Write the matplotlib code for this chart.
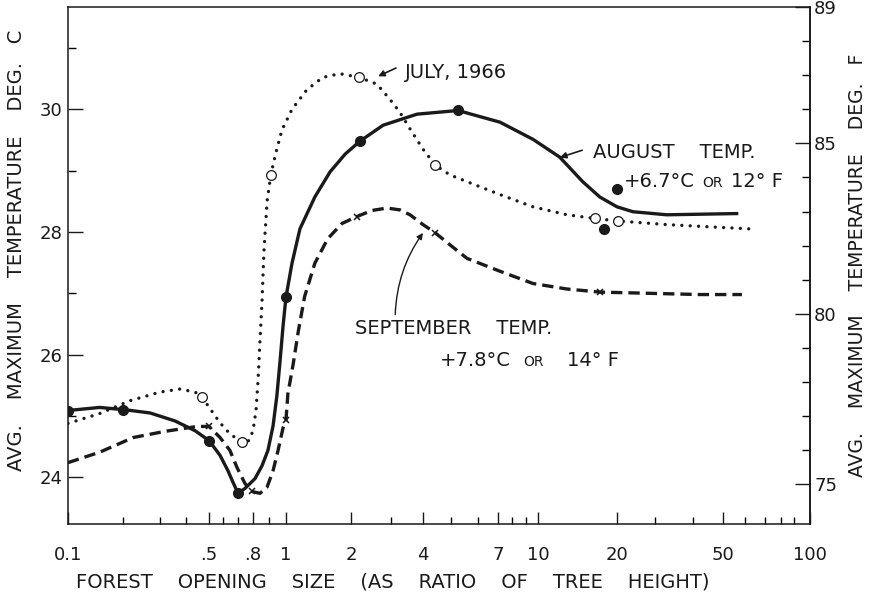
import numpy as np
import matplotlib
matplotlib.use("Agg")
from matplotlib import pyplot as plt

# the x axis of the original is hand drawn: it is log-like but uneven,
# so the scale is calibrated on where the printed ticks sit
cal_vals = [0.1, 0.2, 0.3, 0.4, 0.5, 0.6, 0.7, 0.8, 0.9, 1, 2, 3, 4, 5, 6, 7, 8, 9,
            10, 20, 30, 40, 50, 60, 70, 80, 90, 100]
cal_pix = [68, 123, 160, 186, 209, 223, 238, 253, 269, 286, 351, 391, 423, 451, 478,
           498, 512, 526, 538, 617, 655, 693, 723, 745, 765, 781, 794, 810]
cal_log = np.concatenate([[-4.0], np.log10(cal_vals), [5.0]])
cal_pos = np.concatenate([[68 - 3 * 200.0], np.array(cal_pix, float), [810 + 3 * 260.0]])

def fwd(x):
    x = np.clip(np.asarray(x, float), 1e-4, 1e5)
    return np.interp(np.log10(x), cal_log, cal_pos)

def inv(p):
    return 10 ** np.interp(np.asarray(p, float), cal_pos, cal_log)

# August (solid line, filled dots), deg C
aug_x = [0.1, 0.149, 0.207, 0.269, 0.354, 0.437, 0.5, 0.577, 0.631, 0.665, 0.7, 0.745,
         0.812, 0.855, 0.893, 0.923, 0.945, 0.964, 0.982, 1.0, 1.066, 1.16, 1.36, 1.60,
         1.88, 2.19, 2.77, 3.79, 5.24, 7.13, 9.57, 12.1, 14.8, 17.2, 20, 23.7, 32.8, 56]
aug_c = [25.09, 25.14, 25.10, 25.05, 24.92, 24.76, 24.60, 24.36, 24.11, 23.92, 23.74, 23.82,
         23.98, 24.19, 24.44, 24.84, 25.33, 25.90, 26.47, 26.94, 27.49, 28.05, 28.57, 28.98,
         29.27, 29.48, 29.74, 29.92, 29.98, 29.79, 29.51, 29.22, 28.82, 28.57, 28.41, 28.33,
         28.28, 28.30]
aug_pts_x = [0.1, 0.2, 0.5, 0.7, 1.0, 2.19, 5.24, 17.8, 20]
aug_pts_c = [25.09, 25.10, 24.60, 23.74, 26.94, 29.48, 29.98, 28.05, 28.70]

# July 1966 (dotted line, open circles)
jul_x = [0.1, 0.149, 0.216, 0.3, 0.374, 0.437, 0.467, 0.507, 0.577, 0.644, 0.726, 0.772,
         0.8, 0.818, 0.830, 0.842, 0.855, 0.867, 0.887, 0.91, 0.94, 0.975, 1.066, 1.25,
         1.48, 1.78, 2.17, 2.60, 2.97, 3.25, 3.56, 4.0, 4.41, 4.96, 5.57, 7.13, 9.57,
         12.9, 16.5, 20.1, 32.8, 62.3]
jul_c = [24.88, 25.04, 25.25, 25.39, 25.44, 25.39, 25.31, 25.12, 24.89, 24.71, 24.57, 24.60,
         24.76, 25.09, 25.57, 26.22, 26.87, 27.68, 28.49, 28.93, 29.30, 29.66, 30.00, 30.32,
         30.52, 30.58, 30.52, 30.41, 30.16, 29.95, 29.68, 29.35, 29.09, 28.93, 28.82, 28.61,
         28.41, 28.28, 28.22, 28.18, 28.12, 28.05]
jul_pts_x = [0.467, 0.726, 0.91, 2.17, 4.41, 16.5, 20.2]
jul_pts_c = [25.31, 24.57, 28.93, 30.52, 29.09, 28.22, 28.18]

# September (dashed line, x marks)
sep_x = [0.1, 0.149, 0.224, 0.317, 0.445, 0.5, 0.577, 0.644, 0.693, 0.745, 0.793, 0.842,
         0.887, 0.923, 0.952, 0.982, 1.0, 1.02, 1.08, 1.14, 1.22, 1.36, 1.56, 1.82, 2.12,
         2.47, 2.88, 3.25, 3.56, 4.0, 4.4, 4.96, 5.57, 7.13, 9.57, 12.9, 17.2, 28.4, 42.2,
         58.5]
sep_c = [24.24, 24.41, 24.65, 24.75, 24.83, 24.83, 24.65, 24.44, 24.16, 23.90, 23.77, 23.74,
         23.84, 24.11, 24.44, 24.81, 24.94, 25.36, 25.85, 26.38, 26.95, 27.49, 27.89, 28.14,
         28.25, 28.35, 28.39, 28.36, 28.28, 28.12, 27.99, 27.79, 27.57, 27.36, 27.16, 27.07,
         27.02, 27.00, 26.98, 26.98]
sep_pts_x = [0.5, 0.79, 1.0, 2.12, 4.4, 17.2]
sep_pts_c = [24.83, 23.77, 24.94, 28.25, 27.99, 27.02]

major_x = [0.1, 0.5, 0.8, 1, 2, 4, 7, 10, 20, 50, 100]
major_x_lab = ["0.1", ".5", ".8", "1", "2", "4", "7", "10", "20", "50", "100"]
minor_x = [0.2, 0.3, 0.4, 0.6, 0.7, 0.9, 3, 5, 6, 8, 9, 30, 40, 60, 70, 80, 90]
c_major = [24, 26, 28, 30]
c_minor = [25, 27, 29, 31]
f_major = [75, 80, 85, 89]
f_minor = list(range(75, 90))

ink = "#1a1a1a"
plt.rcParams["font.family"] = ["DejaVu Sans"]
plt.rcParams["text.color"] = ink

fig = plt.figure(figsize=(8.73, 5.95), dpi=100)
ax = fig.add_axes([68 / 873, 71 / 595, 742 / 873, 517 / 595])
ax.set_xscale("function", functions=(fwd, inv))

ax.plot(jul_x, jul_c, color=ink, lw=2.4, linestyle=(0, (0.01, 2.5)),
        dash_capstyle="round", solid_capstyle="round")
ax.plot(aug_x, aug_c, color=ink, lw=2.4, solid_joinstyle="round")
ax.plot(sep_x, sep_c, color=ink, lw=2.4, linestyle=(0, (3.4, 1.8)))
ax.plot(jul_pts_x, jul_pts_c, "o", ms=7, mfc="white", mec=ink, mew=0.9, ls="none")
ax.plot(aug_pts_x, aug_pts_c, "o", ms=7, color=ink, ls="none")
ax.plot(sep_pts_x, sep_pts_c, "x", ms=4.5, mew=1.1, color=ink, ls="none")

ax.set_xlim(0.1, 100)
ax.set_ylim(23.24, 31.667)

ax.set_xticks(major_x)
ax.set_xticklabels(major_x_lab)
ax.set_xticks(minor_x, minor=True)
ax.set_xticklabels([], minor=True)
ax.set_yticks(c_major)
ax.set_yticks(c_minor, minor=True)

ax.tick_params(axis="x", which="major", direction="in", length=9, width=1,
               pad=16, labelsize=13, colors=ink)
ax.tick_params(axis="x", which="minor", direction="in", length=5, width=1)
ax.tick_params(axis="y", which="major", direction="in", length=11, width=1,
               pad=4, labelsize=13, colors=ink)
ax.tick_params(axis="y", which="minor", direction="in", length=6, width=1)
for s in ax.spines.values():
    s.set_linewidth(1.1)
    s.set_color(ink)

sec = ax.secondary_yaxis("right", functions=(lambda c: c * 9 / 5 + 32,
                                             lambda f: (f - 32) * 5 / 9))
sec.set_yticks(f_major)
sec.set_yticks(f_minor, minor=True)
sec.tick_params(which="major", direction="in", length=11, width=1, pad=3,
                labelsize=13, colors=ink)
sec.tick_params(which="minor", direction="in", length=6, width=1)
sec.spines["right"].set_linewidth(1.1)

ax.set_xlabel("FOREST    OPENING    SIZE    (AS    RATIO    OF    TREE    HEIGHT)",
              fontsize=14, color=ink)
ax.xaxis.set_label_coords(0.438, -0.093)
ax.set_ylabel("AVG.    MAXIMUM    TEMPERATURE    DEG.   C", fontsize=14, color=ink)
ax.yaxis.set_label_coords(-0.057, 0.53)
sec.set_ylabel("AVG.    MAXIMUM    TEMPERATURE    DEG.   F", fontsize=13.5, color=ink,
               labelpad=8)

# annotations
arw = dict(arrowstyle="-|>", color=ink, lw=1.2, mutation_scale=9, shrinkA=0, shrinkB=0)
ax.text(0.454, 0.874, "JULY, 1966", transform=ax.transAxes, fontsize=14,
        va="center", ha="left")
ax.annotate("", xy=(0.418, 0.866), xytext=(0.442, 0.882),
            xycoords="axes fraction", textcoords="axes fraction", arrowprops=arw)
ax.text(0.708, 0.718, "AUGUST    TEMP.", transform=ax.transAxes, fontsize=14,
        va="center", ha="left")
ax.annotate("", xy=(0.663, 0.709), xytext=(0.693, 0.723),
            xycoords="axes fraction", textcoords="axes fraction", arrowprops=arw)
ax.text(0.749, 0.662, "+6.7°C", transform=ax.transAxes, fontsize=14,
        va="center", ha="left")
ax.text(0.855, 0.659, "OR", transform=ax.transAxes, fontsize=10,
        va="center", ha="left")
ax.text(0.893, 0.662, "12° F", transform=ax.transAxes, fontsize=14,
        va="center", ha="left")
ax.text(0.387, 0.379, "SEPTEMBER    TEMP.", transform=ax.transAxes, fontsize=14,
        va="center", ha="left")
ax.text(0.5013, 0.317, "+7.8°C", transform=ax.transAxes, fontsize=14,
        va="center", ha="left")
ax.text(0.614, 0.314, "OR", transform=ax.transAxes, fontsize=10,
        va="center", ha="left")
ax.text(0.672, 0.317, "14° F", transform=ax.transAxes, fontsize=14,
        va="center", ha="left")
ax.annotate("", xy=(0.4784, 0.563), xytext=(0.441, 0.405),
            xycoords="axes fraction", textcoords="axes fraction",
            arrowprops=dict(arw, lw=1.0, connectionstyle="arc3,rad=-0.15"))

fig.savefig("out.png", dpi=100, facecolor="white")
